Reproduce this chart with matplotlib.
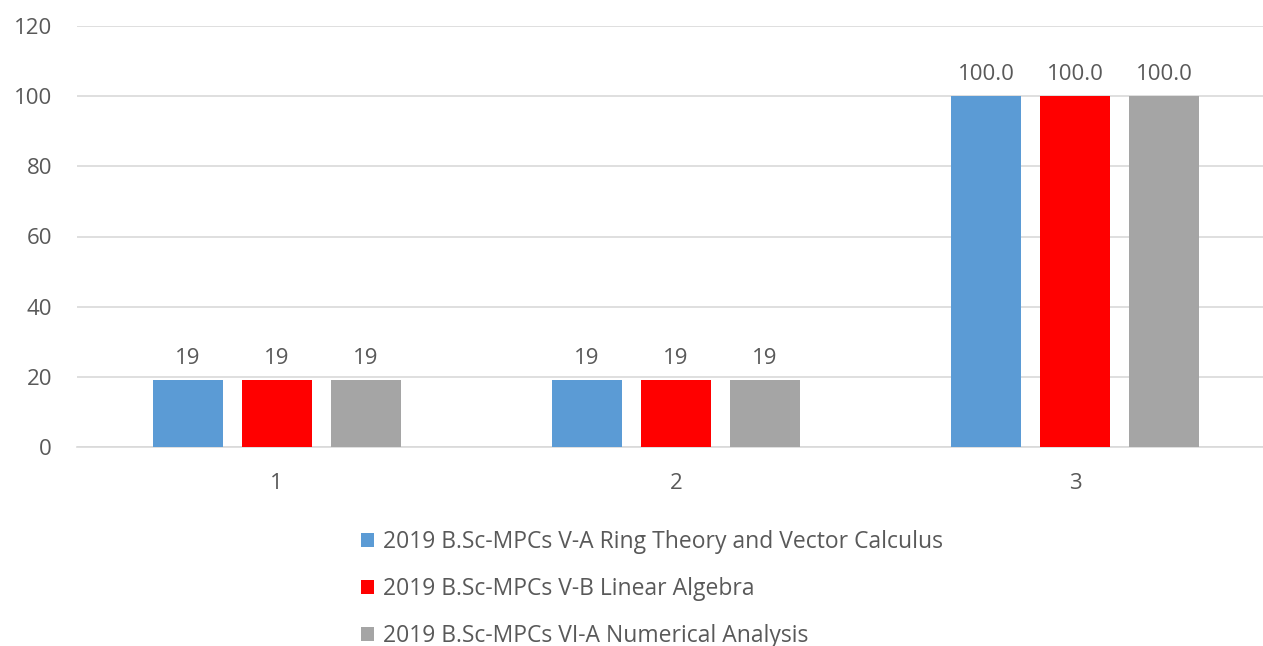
import numpy as np
import matplotlib
matplotlib.use("Agg")
import matplotlib.pyplot as plt

plt.rcParams['font.family'] = ['Open Sans', 'DejaVu Sans']

categories = ['1', '2', '3']
series_names = ['2019 B.Sc-MPCs V-A Ring Theory and Vector Calculus',
                '2019 B.Sc-MPCs V-B Linear Algebra',
                '2019 B.Sc-MPCs VI-A Numerical Analysis']
values = [[19, 19, 100.0],
          [19, 19, 100.0],
          [19, 19, 100.0]]
value_labels = ['19', '19', '100.0']
colors = ['#5B9BD5', '#FF0000', '#A5A5A5']
yticks = [0, 20, 40, 60, 80, 100, 120]

txt = '#595959'
fs = 16
W, H = 1263, 646
fig = plt.figure(figsize=(W / 100, H / 100), dpi=100)
ax = fig.add_axes([77 / W, (H - 447) / H, 1198 / W, 421 / H])

x = np.arange(len(categories))
width = 0.175
step = 0.223
for i, name in enumerate(series_names):
    bars = ax.bar(x + (i - 1) * step, values[i], width, color=colors[i], label=name, zorder=3)
    ax.bar_label(bars, labels=value_labels, padding=8, fontsize=fs, color=txt)

ax.set_xlim(-0.5, 2.5)
ax.set_ylim(0, 120)
ax.set_yticks(yticks)
ax.set_xticks(x)
ax.set_xticklabels(categories)
ax.grid(axis='y', color='#D9D9D9', linewidth=1.2, zorder=0)
ax.tick_params(axis='both', length=0, labelsize=fs, labelcolor=txt)
ax.tick_params(axis='y', pad=18)
ax.tick_params(axis='x', pad=19)
for s in ['top', 'right', 'left']:
    ax.spines[s].set_visible(False)
ax.spines['bottom'].set_color('#D9D9D9')
ax.spines['bottom'].set_linewidth(1.2)

fig.legend(loc='upper left', bbox_to_anchor=(352 / W, (H - 521) / H), frameon=False,
           fontsize=16.5, labelcolor=txt, handlelength=0.55, handleheight=0.55,
           handletextpad=0.4, labelspacing=1.0, borderaxespad=0)

fig.savefig('out.png', dpi=100)
